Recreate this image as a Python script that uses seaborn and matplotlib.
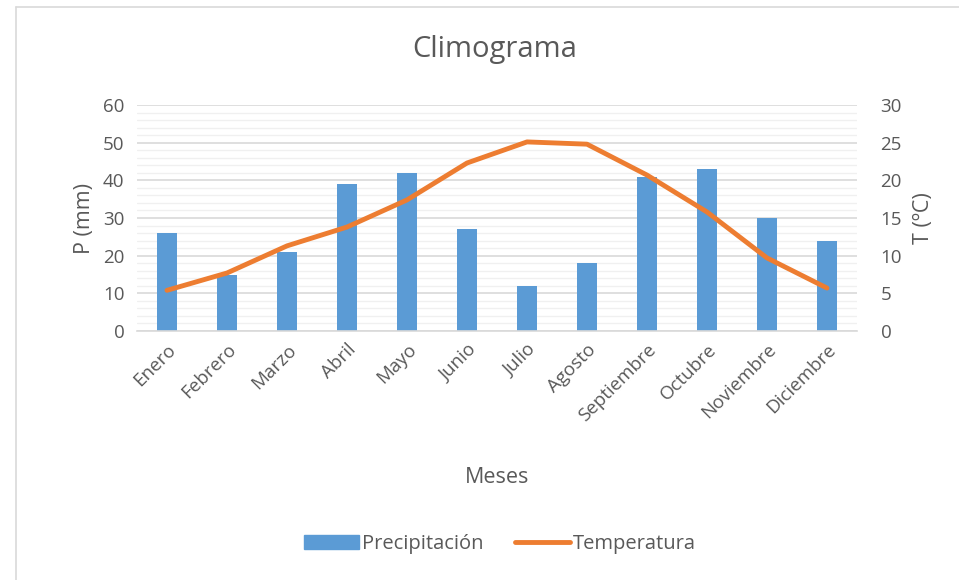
import matplotlib
matplotlib.use("Agg")
import matplotlib.pyplot as plt
import seaborn as sns
import pandas as pd
import numpy as np
from matplotlib.patches import Rectangle
from matplotlib.lines import Line2D
from matplotlib.ticker import MultipleLocator

meses = ["Enero", "Febrero", "Marzo", "Abril", "Mayo", "Junio", "Julio",
         "Agosto", "Septiembre", "Octubre", "Noviembre", "Diciembre"]
precipitacion = [26, 15, 21, 39, 42, 27, 12, 18, 41, 43, 30, 24]
temperatura = [5.4, 7.7, 11.3, 13.8, 17.4, 22.3, 25.1, 24.8, 20.7, 15.8, 9.7, 5.7]

df = pd.DataFrame({"Mes": meses, "P": precipitacion, "T": temperatura})

sns.set_style("white")
plt.rcParams["font.family"] = ["Open Sans", "DejaVu Sans"]
txt = "#595959"
blue = "#5B9BD5"
orange = "#ED7D31"

fig = plt.figure(figsize=(9.59, 5.8), dpi=100)
ax = fig.add_axes([137/959, (580-331)/580, 720/959, 226/580])

sns.barplot(data=df, x="Mes", y="P", color=blue, width=0.32, ax=ax,
            saturation=1, edgecolor="none")
ax.set_ylim(0, 60)
ax.set_xlim(-0.5, 11.5)
ax.yaxis.set_major_locator(MultipleLocator(10))
ax.yaxis.set_minor_locator(MultipleLocator(2))
ax.grid(axis="y", which="major", color="#D9D9D9", lw=1.2)
ax.grid(axis="y", which="minor", color="#F0F0F0", lw=1.0)
ax.set_axisbelow(True)
for s in ["top", "right", "left"]:
    ax.spines[s].set_visible(False)
ax.spines["bottom"].set_color("#D9D9D9")
ax.spines["bottom"].set_linewidth(1.2)
ax.tick_params(axis="both", which="both", length=0, labelsize=13.5, colors=txt)
ax.tick_params(axis="y", pad=9)
ax.tick_params(axis="x", pad=7)
plt.setp(ax.get_xticklabels(), rotation=45, ha="right", rotation_mode="anchor")
ax.set_xlabel("Meses", fontsize=15.5, color=txt, labelpad=30)
ax.set_ylabel("P (mm)", fontsize=15.5, color=txt, labelpad=6)

ax2 = ax.twinx()
sns.lineplot(data=df, x="Mes", y="T", color=orange, lw=3.5, ax=ax2, sort=False)
ax2.set_ylim(0, 30)
ax2.yaxis.set_major_locator(MultipleLocator(5))
for s in ["top", "right", "left", "bottom"]:
    ax2.spines[s].set_visible(False)
ax2.tick_params(axis="y", length=0, labelsize=13.5, colors=txt, pad=17)
ax2.set_ylabel("T (ºC)", fontsize=15.5, color=txt, labelpad=8, rotation=90)
ax2.grid(False)

fig.text(495/959, 1 - 50/580, "Climograma", ha="center", va="center",
         fontsize=21, color=txt)

handles = [Rectangle((0, 0), 1, 1, color=blue),
           Line2D([0], [0], color=orange, lw=3.5, solid_capstyle="round")]
fig.legend(handles, ["Precipitación", "Temperatura"], loc="center",
           bbox_to_anchor=(500/959, 1 - 544/580), ncol=2, frameon=False,
           fontsize=14.5, labelcolor=txt, handlelength=2.7, handleheight=0.75,
           handletextpad=0.15, columnspacing=1.6)

fig.add_artist(Line2D([16/959, 16/959], [0, 1 - 6.5/580], transform=fig.transFigure,
                      color="#D9D9D9", lw=1.2))
fig.add_artist(Line2D([16/959, 1], [1 - 6.5/580, 1 - 6.5/580], transform=fig.transFigure,
                      color="#D9D9D9", lw=1.2))

fig.savefig("out.png", dpi=100)
